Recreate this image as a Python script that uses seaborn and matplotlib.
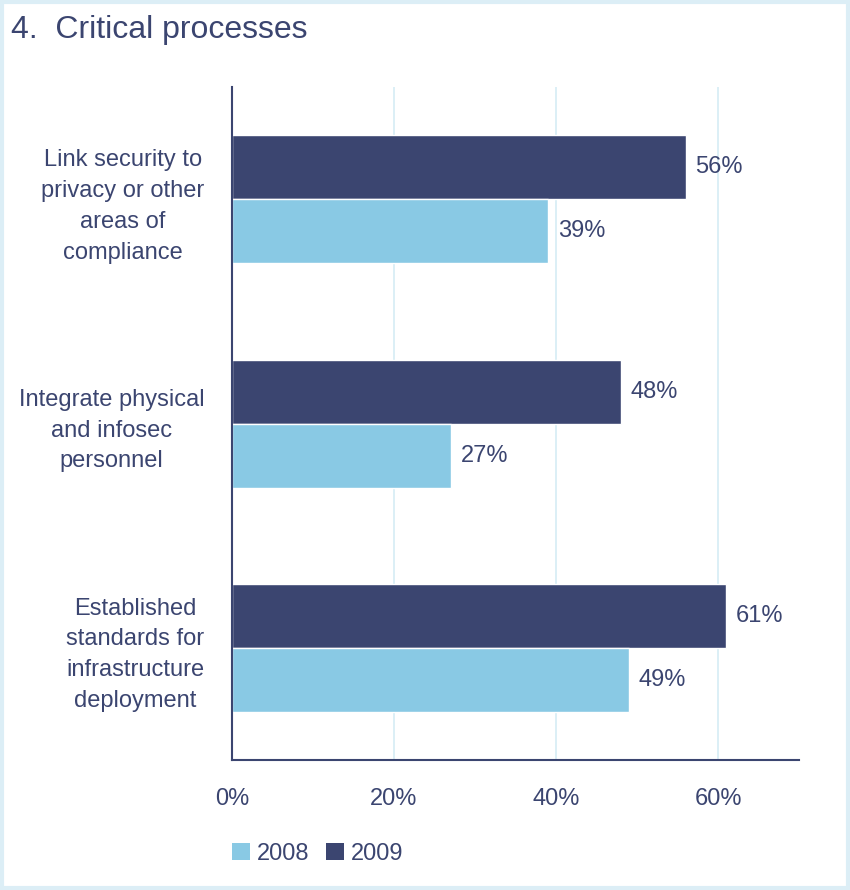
import matplotlib
matplotlib.use("Agg")
import matplotlib.pyplot as plt
from matplotlib.patches import Rectangle, Patch
import seaborn as sns
import pandas as pd

# Survey results: share of respondents per process, by year
categories = [
    "Link security to\nprivacy or other\nareas of\ncompliance",
    "Integrate physical\nand infosec\npersonnel",
    "Established\nstandards for\ninfrastructure\ndeployment",
]
values_2008 = [39, 27, 49]
values_2009 = [56, 48, 61]
years = ["2008", "2009"]
x_ticks = [0, 20, 40, 60]
x_tick_labels = ["0%", "20%", "40%", "60%"]

NAVY = "#3B4570"
LIGHT = "#89C9E4"
GRID = "#D6ECF5"
FS = 17

df = pd.DataFrame({
    "category": categories * 2,
    "value": values_2008 + values_2009,
    "year": [years[0]] * 3 + [years[1]] * 3,
})

sns.set_theme(style="white")
plt.rcParams["font.family"] = ["Liberation Sans", "DejaVu Sans"]

fig = plt.figure(figsize=(8.5, 8.9), dpi=100)
ax = fig.add_axes([0.273, 0.146, 0.667, 0.756])

sns.barplot(
    data=df, y="category", x="value", hue="year",
    hue_order=["2009", "2008"], order=categories,
    palette={"2008": LIGHT, "2009": NAVY},
    orient="h", width=0.57, saturation=1, ax=ax, legend=False,
)

ax.set_xlim(0, 70)
ax.set_ylim(2.5, -0.5)
ax.set_xticks(x_ticks)
ax.set_xticklabels(x_tick_labels, fontsize=FS, color=NAVY)
ax.set_xlabel("")
ax.set_ylabel("")
ax.tick_params(axis="x", direction="out", length=6, width=1.2, color=NAVY, pad=14)
ax.tick_params(axis="y", length=0, pad=20)
for lbl in ax.get_yticklabels():
    lbl.set_fontsize(FS)
    lbl.set_color(NAVY)
    lbl.set_multialignment("center")
    lbl.set_linespacing(1.52)

for x in x_ticks[1:]:
    ax.axvline(x, color=GRID, lw=1.2, zorder=0)

for side in ["top", "right"]:
    ax.spines[side].set_visible(False)
for side in ["left", "bottom"]:
    ax.spines[side].set_color(NAVY)
    ax.spines[side].set_linewidth(1.5)

# value labels at the end of each bar
for container in ax.containers:
    ax.bar_label(container, labels=[f"{v:.0f}%" for v in container.datavalues],
                 padding=7, fontsize=FS, color=NAVY)

fig.text(0.013, 0.966, "4.  Critical processes", fontsize=23, color=NAVY,
         ha="left", va="center")

handles = [Patch(facecolor=LIGHT, edgecolor="none"),
           Patch(facecolor=NAVY, edgecolor="none")]
fig.legend(handles, years, loc="center left", bbox_to_anchor=(0.273, 0.041),
           frameon=False, ncol=2, fontsize=FS, labelcolor=NAVY,
           borderpad=0, borderaxespad=0,
           handlelength=0.75, handleheight=0.75, handletextpad=0.3,
           columnspacing=0.7)

fig.patches.append(Rectangle((0.002, 0.002), 0.996, 0.996, transform=fig.transFigure,
                             fill=False, edgecolor="#DCEEF6", lw=3))

fig.savefig("out.png", dpi=100, facecolor="white")
